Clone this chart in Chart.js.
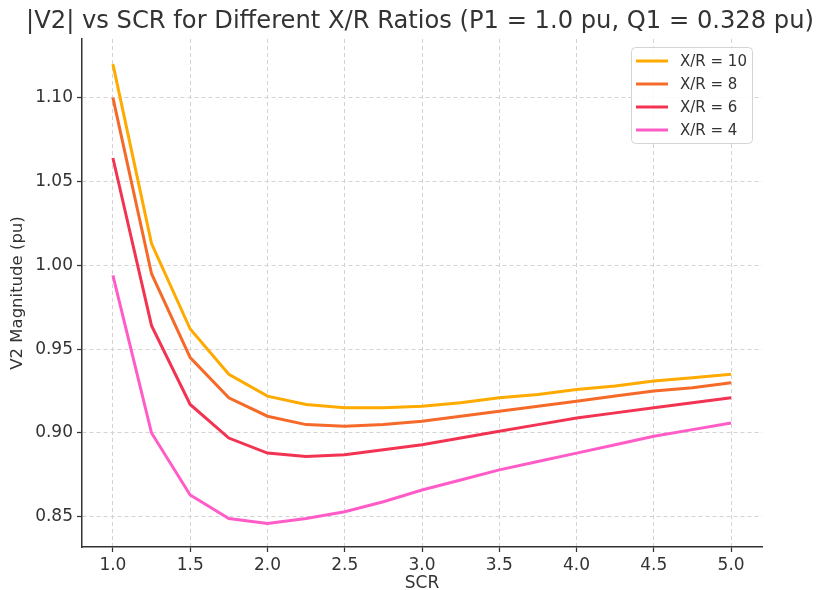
<!DOCTYPE html>
<html>
<head>
<meta charset="utf-8">
<script src="https://cdn.jsdelivr.net/npm/chart.js@4/dist/chart.umd.min.js"></script>
<style>
  html, body { margin: 0; padding: 0; background: #fff; }
  #wrap { width: 820px; height: 590px; position: relative; }
</style>
</head>
<body>
<div id="wrap"><canvas id="c" width="820" height="590"></canvas></div>
<script>
const scr = [1.0, 1.25, 1.5, 1.75, 2.0, 2.25, 2.5, 2.75, 3.0, 3.25, 3.5, 3.75, 4.0, 4.25, 4.5, 4.75, 5.0];
const xr10 = [1.120, 1.013, 0.962, 0.935, 0.922, 0.917, 0.915, 0.915, 0.916, 0.918, 0.921, 0.923, 0.926, 0.928, 0.931, 0.933, 0.935];
const xr8  = [1.100, 0.995, 0.945, 0.921, 0.910, 0.905, 0.904, 0.905, 0.907, 0.910, 0.913, 0.916, 0.919, 0.922, 0.925, 0.927, 0.930];
const xr6  = [1.064, 0.964, 0.917, 0.897, 0.888, 0.886, 0.887, 0.890, 0.893, 0.897, 0.901, 0.905, 0.909, 0.912, 0.915, 0.918, 0.921];
const xr4  = [0.994, 0.900, 0.863, 0.849, 0.846, 0.849, 0.853, 0.859, 0.866, 0.872, 0.878, 0.883, 0.888, 0.893, 0.898, 0.902, 0.906];
const seriesLabels = ['X/R = 10', 'X/R = 8', 'X/R = 6', 'X/R = 4'];
const seriesValues = [xr10, xr8, xr6, xr4];
const seriesColors = ['#FFAA00', '#F56A28', '#F23452', '#FF5CC8'];
const titleText = '|V2| vs SCR for Different X/R Ratios (P1 = 1.0 pu, Q1 = 0.328 pu)';

const FONT = "'DejaVu Sans', sans-serif";
const TXT = '#333333';

const datasets = seriesValues.map((vals, i) => ({
  label: seriesLabels[i],
  data: scr.map((x, j) => ({ x: x, y: vals[j] })),
  borderColor: seriesColors[i],
  backgroundColor: seriesColors[i],
  borderWidth: 3,
  pointRadius: 0,
  tension: 0,
  fill: false
}));

const customDraw = {
  id: 'customDraw',
  afterDraw(chart) {
    const ctx = chart.ctx;
    ctx.save();
    // title
    ctx.fillStyle = TXT;
    ctx.font = "24.2px " + FONT;
    ctx.textAlign = 'center';
    ctx.textBaseline = 'middle';
    ctx.fillText(titleText, 420, 22);
    // legend box
    const bx = 631.5, by = 47.5, bw = 121, bh = 96;
    ctx.beginPath();
    if (ctx.roundRect) ctx.roundRect(bx, by, bw, bh, 4); else ctx.rect(bx, by, bw, bh);
    ctx.fillStyle = 'rgba(255,255,255,0.85)';
    ctx.fill();
    ctx.strokeStyle = '#d4d4d4';
    ctx.lineWidth = 1;
    ctx.stroke();
    ctx.font = "15px " + FONT;
    ctx.textAlign = 'left';
    ctx.textBaseline = 'middle';
    chart.data.datasets.forEach((ds, i) => {
      const y = 61 + i * 23;
      ctx.strokeStyle = ds.borderColor;
      ctx.lineWidth = 3;
      ctx.beginPath();
      ctx.moveTo(636, y);
      ctx.lineTo(668, y);
      ctx.stroke();
      ctx.fillStyle = TXT;
      ctx.fillText(ds.label, 680, y + 1);
    });
    ctx.restore();
  }
};

new Chart(document.getElementById('c'), {
  type: 'line',
  data: { datasets: datasets },
  plugins: [customDraw],
  options: {
    responsive: false,
    animation: false,
    layout: { padding: { top: 39, right: 58, left: 0, bottom: 0 } },
    plugins: { legend: { display: false }, title: { display: false }, tooltip: { enabled: false } },
    scales: {
      x: {
        type: 'linear',
        min: 0.8, max: 5.2,
        afterFit(s) { s.height = 43; },
        ticks: {
          stepSize: 0.5, includeBounds: false, color: TXT,
          font: { family: FONT, size: 17 }, padding: 3,
          callback: v => Number(v).toFixed(1)
        },
        grid: { color: '#d3d3d3', lineWidth: 1, tickLength: 5, tickColor: '#333', tickBorderDash: [], tickWidth: 1.25 },
        border: { display: true, color: '#333', width: 1.5, dash: [4, 3] },
        title: { display: true, text: 'SCR', color: TXT, font: { family: FONT, size: 17 }, padding: { top: 0, bottom: -4 } }
      },
      y: {
        min: 0.832, max: 1.135,
        afterFit(s) { s.width = 82; },
        ticks: {
          stepSize: 0.05, includeBounds: false, color: TXT,
          font: { family: FONT, size: 17 }, padding: 4,
          callback: v => Number(v).toFixed(2)
        },
        grid: { color: '#d3d3d3', lineWidth: 1, tickLength: 5, tickColor: '#333', tickBorderDash: [], tickWidth: 1.25 },
        border: { display: true, color: '#333', width: 1.5, dash: [4, 3] },
        title: { display: true, text: 'V2 Magnitude (pu)', color: TXT, font: { family: FONT, size: 16.5 }, padding: { top: 8, bottom: 4 } }
      }
    }
  }
});
</script>
</body>
</html>
